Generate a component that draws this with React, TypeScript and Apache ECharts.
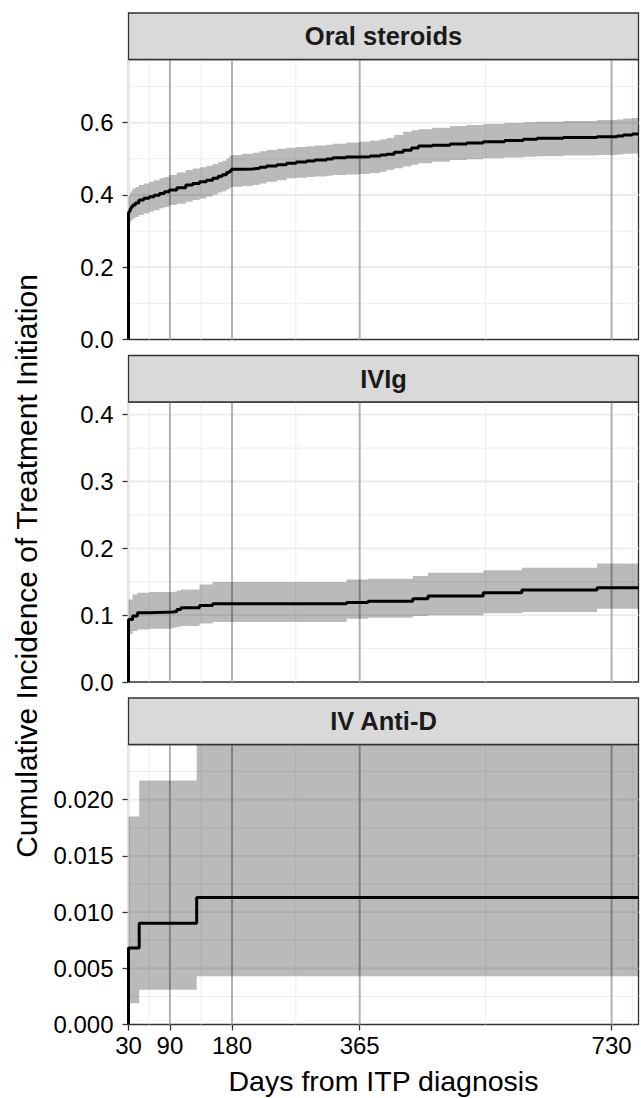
import React, { useEffect, useRef } from "react";
import * as echarts from "echarts";

// ---------- data ----------
const panelTitles = ["Oral steroids", "IVIg", "IV Anti-D"];

const xTicks = [30, 90, 180, 365, 730];
const xMinor = [60, 135, 272.5, 547.5, 760];
const xVlines = [90, 180, 365, 730];

// Oral steroids
const oralDays = [30, 31, 32.5, 34, 36, 40, 45, 52, 60, 67, 75, 82, 89, 100, 113, 123, 133, 143, 152, 160, 166, 172, 176, 179, 195, 210, 220, 230, 245, 259, 273, 288, 300, 317, 326, 345, 365, 380, 395, 404, 415, 428, 440, 450, 470, 496, 520, 544, 575, 602, 622, 660, 709, 738, 747, 760, 769];
const oralEst = [0.349, 0.355, 0.362, 0.367, 0.372, 0.378, 0.386, 0.391, 0.395, 0.399, 0.404, 0.409, 0.414, 0.42, 0.4275, 0.432, 0.4367, 0.441, 0.446, 0.452, 0.456, 0.462, 0.466, 0.471, 0.472, 0.4737, 0.477, 0.48, 0.484, 0.4875, 0.491, 0.494, 0.497, 0.4995, 0.503, 0.505, 0.506, 0.508, 0.5106, 0.513, 0.518, 0.524, 0.53, 0.5355, 0.538, 0.541, 0.544, 0.5475, 0.551, 0.554, 0.557, 0.559, 0.561, 0.563, 0.566, 0.569, 0.5706];
const oralUpper = [0.395, 0.4, 0.407, 0.412, 0.418, 0.422, 0.4275, 0.432, 0.4367, 0.441, 0.446, 0.45, 0.455, 0.462, 0.469, 0.473, 0.4765, 0.481, 0.486, 0.491, 0.495, 0.501, 0.508, 0.5106, 0.514, 0.517, 0.521, 0.5245, 0.528, 0.531, 0.533, 0.535, 0.537, 0.539, 0.542, 0.545, 0.5475, 0.551, 0.554, 0.558, 0.566, 0.575, 0.579, 0.5817, 0.586, 0.591, 0.594, 0.5964, 0.599, 0.601, 0.603, 0.605, 0.6075, 0.609, 0.612, 0.613, 0.613];
const oralLower = [0.3167, 0.321, 0.326, 0.33, 0.335, 0.339, 0.3444, 0.349, 0.3536, 0.358, 0.363, 0.367, 0.372, 0.376, 0.381, 0.386, 0.3906, 0.396, 0.401, 0.407, 0.41, 0.415, 0.419, 0.4229, 0.425, 0.4275, 0.432, 0.4367, 0.441, 0.446, 0.448, 0.45, 0.451, 0.453, 0.455, 0.457, 0.458, 0.461, 0.4644, 0.469, 0.474, 0.479, 0.484, 0.4875, 0.492, 0.4967, 0.499, 0.5014, 0.504, 0.506, 0.507, 0.509, 0.5106, 0.512, 0.514, 0.515, 0.515];

// IVIg
const ivigDays = [30, 36, 43, 60, 94, 100, 106, 133, 152, 346, 377, 442, 464, 544, 600, 709, 769];
const ivigEst = [0.0937, 0.0987, 0.1036, 0.1046, 0.1056, 0.1086, 0.111, 0.1146, 0.117, 0.119, 0.121, 0.1246, 0.1286, 0.1336, 0.1375, 0.1411, 0.1411];
const ivigUpper = [0.1236, 0.131, 0.1336, 0.1345, 0.135, 0.137, 0.1385, 0.146, 0.1495, 0.1535, 0.1545, 0.1585, 0.1635, 0.1674, 0.171, 0.1774, 0.1774];
const ivigLower = [0.0713, 0.0762, 0.0787, 0.0795, 0.081, 0.0825, 0.0837, 0.0877, 0.0897, 0.0945, 0.0962, 0.0987, 0.0997, 0.1027, 0.1046, 0.1097, 0.1097];

// IV Anti-D
const antiDDays = [30, 45.5, 128.8, 769];
const antiDEst = [0.0068, 0.009, 0.0113, 0.0113];
const antiDUpper = [0.0185, 0.0217, 0.03, 0.03];
const antiDLower = [0.0019, 0.0031, 0.0043, 0.0043];

// y axes
const oralYTicks = [0, 0.2, 0.4, 0.6];
const oralYMinor = [0.1, 0.3, 0.5, 0.7];
const ivigYTicks = [0, 0.1, 0.2, 0.3, 0.4];
const ivigYMinor = [0.05, 0.15, 0.25, 0.35];
const antiDYTicks = [0, 0.005, 0.01, 0.015, 0.02];
const antiDYMinor = [0.0025, 0.0075, 0.0125, 0.0175, 0.0225];

const X_MIN = 30;
const X_MAX = 769;
const yMaxes = [0.775, 0.419, 0.0249];
const yDecimals = [1, 1, 3];

// ---------- layout ----------
const PLOT_LEFT = 128.5;
const PLOT_RIGHT = 638.5;
const PANEL_TOPS = [59.5, 402, 744.5];
const PANEL_H = 280;
const STRIP_H = 46.5;
const FONT = "'Liberation Sans', Arial, Helvetica, sans-serif";

const App: React.FC = () => {
  const ref = useRef<HTMLDivElement>(null);

  useEffect(() => {
    if (!ref.current) return;
    const chart = echarts.init(ref.current, undefined, { renderer: "svg" });

    const panels = [
      { days: oralDays, est: oralEst, lo: oralLower, hi: oralUpper, yt: oralYTicks, ym: oralYMinor },
      { days: ivigDays, est: ivigEst, lo: ivigLower, hi: ivigUpper, yt: ivigYTicks, ym: ivigYMinor },
      { days: antiDDays, est: antiDEst, lo: antiDLower, hi: antiDUpper, yt: antiDYTicks, ym: antiDYMinor },
    ];

    const grids: any[] = [];
    const xAxes: any[] = [];
    const yAxes: any[] = [];
    const series: any[] = [];
    const graphics: any[] = [];

    panels.forEach((p, gi) => {
      const isBottom = gi === panels.length - 1;
      grids.push({
        left: PLOT_LEFT,
        top: PANEL_TOPS[gi],
        width: PLOT_RIGHT - PLOT_LEFT,
        height: PANEL_H,
        show: true,
        backgroundColor: "#ffffff",
        borderColor: "#333333",
        borderWidth: 1.3,
        z: 0,
      });
      xAxes.push({
        type: "value",
        gridIndex: gi,
        min: X_MIN,
        max: X_MAX,
        axisLine: { show: false },
        splitLine: { show: false },
        axisTick: {
          show: isBottom,
          customValues: xTicks,
          length: 6,
          lineStyle: { color: "#333333", width: 1.3 },
        },
        axisLabel: {
          show: isBottom,
          customValues: xTicks,
          margin: 9,
          fontSize: 24,
          fontFamily: FONT,
          color: "#000000",
        },
      });
      yAxes.push({
        type: "value",
        gridIndex: gi,
        min: 0,
        max: yMaxes[gi],
        axisLine: { show: false },
        splitLine: { show: false },
        axisTick: {
          show: true,
          customValues: p.yt,
          length: 6,
          lineStyle: { color: "#333333", width: 1.3 },
        },
        axisLabel: {
          show: true,
          customValues: p.yt,
          margin: 15,
          fontSize: 24,
          fontFamily: FONT,
          color: "#000000",
          formatter: (v: number) => v.toFixed(yDecimals[gi]),
        },
      });

      // grid lines (custom series so they sit under the ribbon)
      type Spec = { v: number; vertical: boolean; major: boolean };
      const specs: Spec[] = [];
      p.ym.forEach((v) => specs.push({ v, vertical: false, major: false }));
      p.yt.filter((v) => v > 0).forEach((v) => specs.push({ v, vertical: false, major: true }));
      xMinor.forEach((v) => specs.push({ v, vertical: true, major: false }));
      xTicks.forEach((v) => specs.push({ v, vertical: true, major: true }));

      series.push({
        type: "custom",
        xAxisIndex: gi,
        yAxisIndex: gi,
        silent: true,
        z: 1,
        data: specs.map((s) => (s.vertical ? [s.v, 0] : [X_MIN, s.v])),
        renderItem: (params: any, api: any) => {
          const s = specs[params.dataIndex];
          const cs = params.coordSys;
          const pt = api.coord([api.value(0), api.value(1)]);
          const shape = s.vertical
            ? { x1: pt[0], y1: cs.y, x2: pt[0], y2: cs.y + cs.height }
            : { x1: cs.x, y1: pt[1], x2: cs.x + cs.width, y2: pt[1] };
          return {
            type: "line",
            shape,
            style: { stroke: "#EBEBEB", lineWidth: s.major ? 1.8 : 0.9 },
          };
        },
      });

      // confidence ribbon
      series.push({
        type: "custom",
        xAxisIndex: gi,
        yAxisIndex: gi,
        silent: true,
        z: 2,
        data: p.days.map((d, i) => [d, p.lo[i], p.hi[i]]),
        encode: { x: 0, y: [1, 2] },
        renderItem: (params: any, api: any) => {
          if (params.dataIndex !== 0) return null;
          const cs = params.coordSys;
          const top = cs.y;
          const bottom = cs.y + cs.height;
          const clampY = (y: number) => Math.max(top, Math.min(bottom, y));
          const up: number[][] = [];
          const dn: number[][] = [];
          const n = p.days.length;
          for (let i = 0; i < n; i++) {
            const nextX = i + 1 < n ? p.days[i + 1] : p.days[i];
            const a = api.coord([p.days[i], p.hi[i]]);
            const b = api.coord([nextX, p.hi[i]]);
            up.push([a[0], clampY(a[1])], [b[0], clampY(b[1])]);
            const c = api.coord([p.days[i], p.lo[i]]);
            const d = api.coord([nextX, p.lo[i]]);
            dn.push([c[0], clampY(c[1])], [d[0], clampY(d[1])]);
          }
          const pts = up.concat(dn.reverse());
          return {
            type: "polygon",
            shape: { points: pts },
            style: { fill: "rgba(0,0,0,0.27)", stroke: "none", lineWidth: 0 },
          };
        },
      });

      // reference vertical lines
      series.push({
        type: "custom",
        xAxisIndex: gi,
        yAxisIndex: gi,
        silent: true,
        z: 3,
        data: xVlines.map((v) => [v, 0]),
        renderItem: (params: any, api: any) => {
          const cs = params.coordSys;
          const pt = api.coord([api.value(0), api.value(1)]);
          return {
            type: "line",
            shape: { x1: pt[0], y1: cs.y, x2: pt[0], y2: cs.y + cs.height },
            style: { stroke: "rgba(0,0,0,0.25)", lineWidth: 2 },
          };
        },
      });

      // estimate
      series.push({
        type: "line",
        xAxisIndex: gi,
        yAxisIndex: gi,
        step: "end",
        symbol: "none",
        silent: true,
        clip: true,
        z: 4,
        lineStyle: { color: "#000000", width: 3 },
        data: [[p.days[0], 0]].concat(p.days.map((d, i) => [d, p.est[i]])),
      });

      // strip
      graphics.push({
        type: "rect",
        shape: { x: PLOT_LEFT, y: PANEL_TOPS[gi] - STRIP_H, width: PLOT_RIGHT - PLOT_LEFT, height: STRIP_H },
        style: { fill: "#D9D9D9", stroke: "#333333", lineWidth: 1.3 },
        z: 10,
      });
      graphics.push({
        type: "text",
        x: (PLOT_LEFT + PLOT_RIGHT) / 2,
        y: PANEL_TOPS[gi] - STRIP_H / 2,
        style: {
          text: panelTitles[gi],
          fontFamily: FONT,
          fontSize: 25.5,
          fontWeight: "bold",
          fill: "#1A1A1A",
          align: "center",
          verticalAlign: "middle",
        },
        z: 11,
      });
    });

    graphics.push({
      type: "text",
      x: (PLOT_LEFT + PLOT_RIGHT) / 2,
      y: 1081,
      style: {
        text: "Days from ITP diagnosis",
        fontFamily: FONT,
        fontSize: 28.5,
        fill: "#000000",
        align: "center",
        verticalAlign: "middle",
      },
      z: 11,
    });
    graphics.push({
      type: "text",
      x: 26,
      y: 566,
      rotation: Math.PI / 2,
      style: {
        text: "Cumulative Incidence of Treatment Initiation",
        fontFamily: FONT,
        fontSize: 30,
        fill: "#000000",
        align: "center",
        verticalAlign: "middle",
      },
      z: 11,
    });

    chart.setOption({
      animation: false,
      backgroundColor: "#ffffff",
      grid: grids,
      xAxis: xAxes,
      yAxis: yAxes,
      series,
      graphic: graphics,
    });

    return () => chart.dispose();
  }, []);

  return (
    <div
      ref={ref}
      style={{ position: "absolute", left: 0, top: 0, width: 641, height: 1098 }}
    />
  );
};

export default App;
